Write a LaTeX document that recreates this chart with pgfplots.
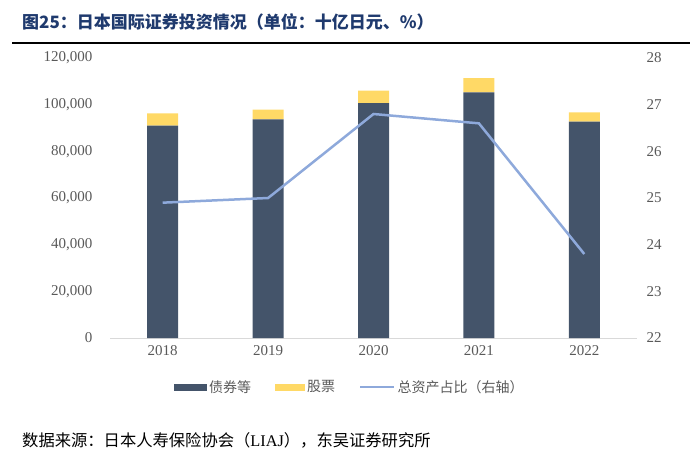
\documentclass[border=0pt]{standalone}
\usepackage{pgfplots}
\pgfplotsset{compat=1.18}
\usepackage{pgfplotstable}
\usepackage{fontspec}
\setmainfont{Liberation Serif}
\newfontfamily\cjk{Noto Sans CJK SC}
\definecolor{bondc}{HTML}{44546A}
\definecolor{stockc}{HTML}{FFD966}
\definecolor{linec}{HTML}{8EA9DB}
\definecolor{titlec}{HTML}{1F3A6E}
\definecolor{tickc}{HTML}{595959}
\definecolor{axisc}{HTML}{D9D9D9}
\pgfplotstableread{
x bond stock ratio
0 91000 5300 24.9
1 93700 4200 25.0
2 100700 5300 26.8
3 105300 6100 26.6
4 92700 4000 23.8
}\datatable
\begin{document}
\begin{tikzpicture}
\path[use as bounding box] (0pt,0pt) rectangle (700pt,-458pt);
\node[anchor=west, text=titlec, font=\cjk\bfseries\fontsize{17}{20}\selectfont, inner sep=0pt] at (22pt,-22pt) {图25：日本国际证券投资情况（单位：十亿日元、\%）};
\draw[line width=1.6pt] (12pt,-43pt) -- (690pt,-43pt);
\node[anchor=west, text=black, font=\fontsize{16.3}{19}\selectfont, inner sep=0pt] at (22pt,-440pt) {{\cjk 数据来源：日本人寿保险协会（}LIAJ{\cjk ），东吴证券研究所}};
\begin{axis}[
  at={(110pt,-338pt)}, anchor=south west, scale only axis,
  width=527pt, height=280pt,
  xmin=-0.5, xmax=4.5, ymin=0, ymax=120000,
  ybar stacked, bar width=31pt,
  xtick={0,1,2,3,4}, xticklabels={2018,2019,2020,2021,2022},
  ytick={0,20000,40000,60000,80000,100000,120000},
  scaled y ticks=false,
  /pgf/number format/fixed,
  /pgf/number format/1000 sep={,},
  /pgf/number format/assume math mode=true,
  axis x line*=bottom, axis y line*=left,
  x axis line style={draw=axisc, line width=0.8pt, -},
  y axis line style={draw=none},
  major tick length=0pt,
  tick label style={text=tickc, font=\fontsize{15}{17}\selectfont},
  xticklabel style={yshift=-4pt},
  yticklabel style={xshift=-14pt},
  enlargelimits=false,
]
\addplot[fill=bondc, draw=none] table[x=x,y=bond]{\datatable};
\addplot[fill=stockc, draw=none] table[x=x,y=stock]{\datatable};
\end{axis}
\begin{axis}[
  at={(110pt,-338pt)}, anchor=south west, scale only axis,
  width=527pt, height=280pt,
  xmin=-0.5, xmax=4.5, ymin=22, ymax=28,
  ytick={22,23,24,25,26,27,28},
  axis x line=none, axis y line*=right,
  y axis line style={draw=none},
  major tick length=0pt,
  /pgf/number format/assume math mode=true,
  yticklabel style={text=tickc, font=\fontsize{15}{17}\selectfont, xshift=6pt},
  legend style={at={(0.455,-0.175)}, anchor=center, draw=none, fill=none,
    legend columns=3, font=\cjk\fontsize{14}{16}\selectfont, text=tickc,
    /tikz/every even column/.append style={column sep=22pt}},
  legend cell align=left,
]
\addlegendimage{fill=bondc, draw=none, legend image code/.code={\fill[bondc] (0pt,-3.5pt) rectangle (33pt,3.5pt);}}
\addlegendentry{债券等}
\addlegendimage{fill=stockc, draw=none, legend image code/.code={\fill[stockc] (0pt,-3.5pt) rectangle (30pt,3.5pt);}}
\addlegendentry{股票}
\addplot[linec, line width=2.5pt, legend image code/.code={\draw[linec, line width=2.5pt] (0pt,0pt) -- (34pt,0pt);}] table[x=x,y=ratio]{\datatable};
\addlegendentry{总资产占比（右轴）}
\end{axis}
\end{tikzpicture}
\end{document}
